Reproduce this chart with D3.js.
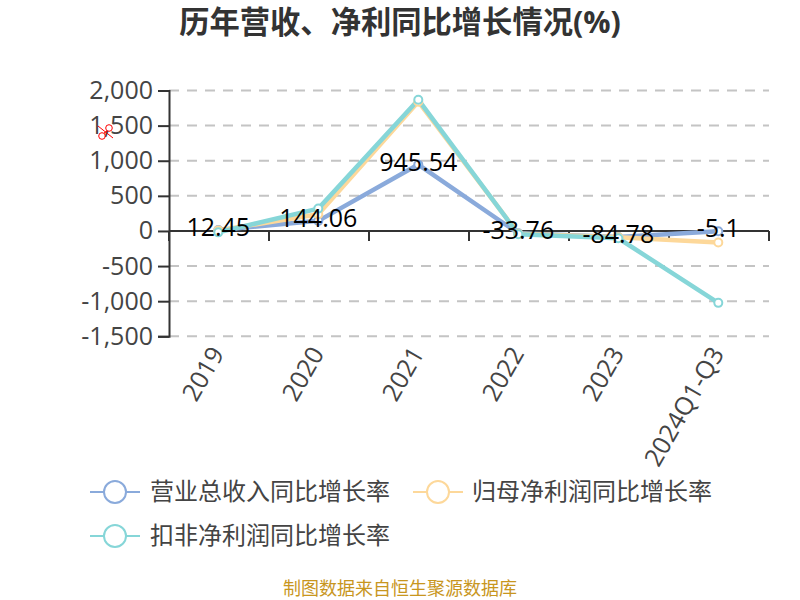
<!DOCTYPE html>
<html><head><meta charset="utf-8">
<script src="https://cdnjs.cloudflare.com/ajax/libs/d3/7.8.5/d3.min.js"></script>
<style>html,body{margin:0;padding:0;background:#fff}svg{display:block}
text{font-family:"Open Sans","Noto Sans CJK SC",sans-serif}</style></head>
<body><svg id="c" width="800" height="600"></svg>
<script>
const categories=["2019","2020","2021","2022","2023","2024Q1-Q3"];
const revenue=[12.45,144.06,945.54,-33.76,-84.78,-5.1];
const netProfit=[8,237,1840,-40,-88,-165];
const deducted=[-20,318,1869,-47,-104,-1024];
const yTicks=[2000,1500,1000,500,0,-500,-1000,-1500];
const seriesNames=["营业总收入同比增长率","归母净利润同比增长率","扣非净利润同比增长率"];
const seriesColors=["#8aaadb","#fdd89a","#86d6d8"];
const seriesData=[revenue,netProfit,deducted];
const titleText="历年营收、净利同比增长情况(%)";
const sourceText="制图数据来自恒生聚源数据库";

const svg=d3.select("#c");
const x=d3.scaleBand().domain(categories).range([168.3,768.3]);
const y=d3.scaleLinear().domain([-1500,2000]).range([336.3,90.5]);
const cx=d=>x(d)+x.bandwidth()/2;

svg.append("text").attr("x",400).attr("y",33).attr("text-anchor","middle")
 .attr("font-size",30.3).attr("font-weight",700).attr("fill","#333").text(titleText);

// grid
svg.append("g").selectAll("line").data(yTicks.filter(d=>d!==0)).join("line")
 .attr("x1",169).attr("x2",769).attr("y1",d=>y(d)).attr("y2",d=>y(d))
 .attr("stroke","#c4c4c4").attr("stroke-width",2).attr("stroke-dasharray","10 8");

// y axis
const gy=svg.append("g").attr("transform","translate(169,0)")
 .call(d3.axisLeft(y).tickValues(yTicks).tickSize(11).tickPadding(5).tickFormat(d3.format(",")));
gy.selectAll("path,line").attr("stroke","#333").attr("stroke-width",2);
gy.selectAll("text").attr("font-size",25).attr("fill","#444").text(d=>d3.format(",")(d).replace("−","-"));

// x axis
const gx=svg.append("g").attr("transform",`translate(0,${y(0)})`);
gx.append("line").attr("x1",169).attr("x2",769).attr("stroke","#333").attr("stroke-width",2);
gx.selectAll("line.t").data(d3.range(0,7)).join("line").attr("class","t")
 .attr("x1",i=>169+x.step()*i).attr("x2",i=>169+x.step()*i).attr("y1",0).attr("y2",10)
 .attr("stroke","#333").attr("stroke-width",2);
svg.append("g").selectAll("text").data(categories).join("text")
 .attr("transform",d=>`translate(${cx(d)-1},349) rotate(-60)`)
 .attr("text-anchor","end").attr("dy","0.35em")
 .attr("font-size",25).attr("fill","#444").text(d=>d);

// series
const line=d3.line().x((d,i)=>cx(categories[i])).y(d=>y(d));
seriesData.forEach((s,k)=>{
 svg.append("path").attr("d",line(s)).attr("fill","none")
  .attr("stroke",seriesColors[k]).attr("stroke-width",4.5).attr("stroke-linejoin","round");
});
seriesData.forEach((s,k)=>{
 svg.append("g").selectAll("circle").data(s).join("circle")
  .attr("cx",(d,i)=>cx(categories[i])).attr("cy",d=>y(d)).attr("r",4)
  .attr("fill","#fff").attr("stroke",seriesColors[k]).attr("stroke-width",2);
});
// data labels
svg.append("g").selectAll("text").data(revenue).join("text")
 .attr("x",(d,i)=>cx(categories[i])).attr("y",d=>y(d)+6)
 .attr("text-anchor","middle").attr("font-size",25).attr("fill","#000").text(d=>d);

// legend
const legendPos=[[90,492,150],[413,492,472],[90,536,150]];
seriesNames.forEach((n,k)=>{
 const [lx,ly,tx]=legendPos[k];
 const g=svg.append("g");
 g.append("line").attr("x1",lx).attr("x2",lx+50).attr("y1",ly).attr("y2",ly)
  .attr("stroke",seriesColors[k]).attr("stroke-width",2);
 g.append("circle").attr("cx",lx+25).attr("cy",ly).attr("r",11)
  .attr("fill","#fff").attr("stroke",seriesColors[k]).attr("stroke-width",2);
 g.append("text").attr("x",tx).attr("y",ly).attr("dy","0.35em")
  .attr("font-size",24).attr("fill","#444").attr("font-family",'"Noto Sans CJK SC"').text(n);
});

// red scissors mark
const scissors=svg.append("g").attr("fill","none").attr("stroke","#f00").attr("stroke-width",1);
scissors.append("circle").attr("cx",102).attr("cy",136).attr("r",3.3);
scissors.append("circle").attr("cx",109).attr("cy",128).attr("r",3.3);
scissors.append("path").attr("d","M98 126L113 138M104 133L107 131");

svg.append("text").attr("x",400).attr("y",595).attr("text-anchor","middle")
 .attr("font-size",18).attr("fill","#c8961e").attr("font-family",'"Noto Sans CJK SC"').text(sourceText);
</script></body></html>
